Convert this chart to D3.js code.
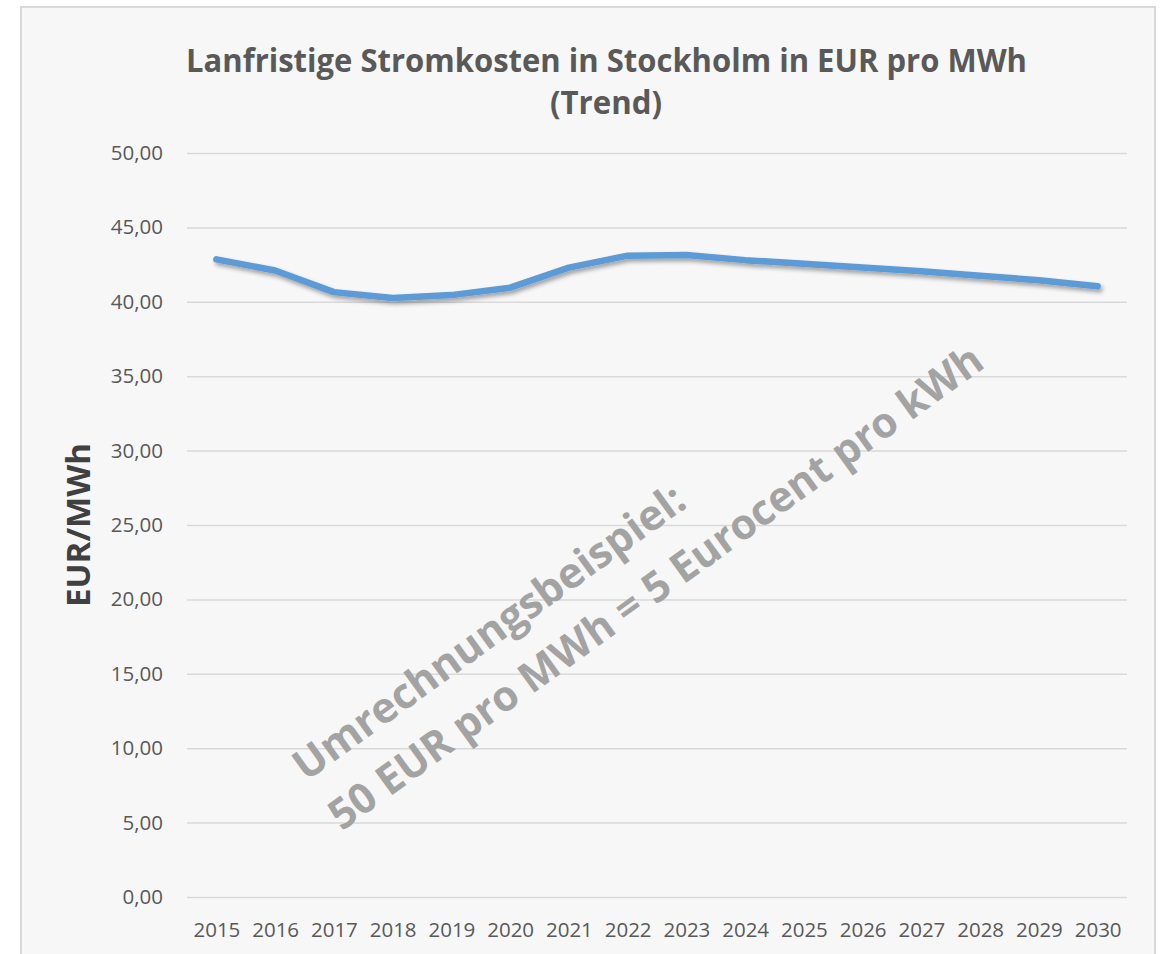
<!DOCTYPE html>
<html>
<head>
<meta charset="utf-8">
<script src="https://d3js.org/d3.v7.min.js"></script>
<style>
	body {
		margin: 0;
		background: #fff;
	}
	text {
		font-family: "Open Sans", sans-serif;
	}
	.tick-label {
		fill: #595959;
		font-size: 20.5px;
	}
	.grid line {
		stroke: #D9D9D9;
		stroke-width: 1.5;
	}
</style>
</head>
<body>
<script>

	// chart data
	var years = ["2015", "2016", "2017", "2018", "2019", "2020", "2021", "2022",
	             "2023", "2024", "2025", "2026", "2027", "2028", "2029", "2030"];
	var prices = [42.85, 42.10, 40.65, 40.25, 40.45, 40.95, 42.30, 43.10,
	              43.15, 42.80, 42.55, 42.30, 42.05, 41.75, 41.45, 41.05];
	var yTicks = [0, 5, 10, 15, 20, 25, 30, 35, 40, 45, 50];

	var titleLines = ["Lanfristige Stromkosten in Stockholm in EUR pro MWh", "(Trend)"];
	var yTitle = "EUR/MWh";
	var noteLines = ["Umrechnungsbeispiel:", "50 EUR pro MWh = 5 Eurocent pro kWh"];

	var W = 1160, H = 954;
	var plot = {left: 187, right: 1127, top: 153, bottom: 897};

	var de = d3.formatLocale({decimal: ",", thousands: ".", grouping: [3], currency: ["", " €"]});
	var fmt = de.format(".2f");

	var svg = d3.select("body").append("svg")
		.attr("width", W)
		.attr("height", H);

	var defs = svg.append("defs");
	var f = defs.append("filter").attr("id", "shadow")
		.attr("x", "-5%").attr("y", "-50%").attr("width", "110%").attr("height", "200%");
	f.append("feDropShadow")
		.attr("dx", 2).attr("dy", 3).attr("stdDeviation", 2.2)
		.attr("flood-color", "#000").attr("flood-opacity", 0.35);

	// chart area frame
	svg.append("rect")
		.attr("x", 21).attr("y", 7)
		.attr("width", 1134).attr("height", 980)
		.attr("fill", "#F7F7F7")
		.attr("stroke", "#D9D9D9")
		.attr("stroke-width", 2);

	var x = d3.scalePoint().domain(years).range([plot.left, plot.right]).padding(0.5);
	var y = d3.scaleLinear().domain([0, 50]).range([plot.bottom, plot.top]);

	// gridlines + y tick labels
	var yAxis = svg.append("g")
		.attr("class", "grid")
		.attr("transform", "translate(" + plot.left + ",0)")
		.call(d3.axisLeft(y).tickValues(yTicks).tickSize(-(plot.right - plot.left)).tickFormat(fmt).tickPadding(24));
	yAxis.select(".domain").remove();
	yAxis.selectAll("text").attr("class", "tick-label").attr("fill", null);

	// x labels
	var xAxis = svg.append("g")
		.attr("transform", "translate(0," + plot.bottom + ")")
		.call(d3.axisBottom(x).tickSize(0).tickPadding(0));
	xAxis.select(".domain").remove();
	xAxis.selectAll("text")
		.attr("class", "tick-label")
		.attr("fill", null)
		.attr("dy", null)
		.attr("y", 40);

	// watermark note
	var note = svg.append("g")
		.attr("transform", "translate(306,782) rotate(-35.8)");
	note.selectAll("text").data(noteLines).enter().append("text")
		.attr("x", 0)
		.attr("y", function(d, i) { return i * 61; })
		.attr("textLength", function(d, i) { return i == 0 ? 472 : 795; })
		.attr("lengthAdjust", "spacingAndGlyphs")
		.style("font-size", "42px")
		.style("font-weight", "bold")
		.style("fill", "#A3A3A3")
		.text(function(d) { return d; });

	// line
	var line = d3.line()
		.x(function(d, i) { return x(years[i]); })
		.y(function(d) { return y(d); });

	svg.append("path")
		.datum(prices)
		.attr("d", line)
		.attr("fill", "none")
		.attr("stroke", "#5B9BD5")
		.attr("stroke-width", 6.5)
		.attr("stroke-linecap", "round")
		.attr("stroke-linejoin", "round")
		.attr("filter", "url(#shadow)");

	// title
	svg.append("text")
		.attr("x", 186).attr("y", 72)
		.attr("textLength", 841)
		.attr("lengthAdjust", "spacingAndGlyphs")
		.style("font-size", "32px")
		.style("font-weight", "bold")
		.style("fill", "#595959")
		.text(titleLines[0]);
	svg.append("text")
		.attr("x", 606).attr("y", 114)
		.attr("text-anchor", "middle")
		.attr("textLength", 112)
		.attr("lengthAdjust", "spacingAndGlyphs")
		.style("font-size", "32px")
		.style("font-weight", "bold")
		.style("fill", "#595959")
		.text(titleLines[1]);

	// y axis title
	svg.append("text")
		.attr("transform", "translate(90,525) rotate(-90)")
		.attr("text-anchor", "middle")
		.attr("textLength", 164)
		.attr("lengthAdjust", "spacingAndGlyphs")
		.style("font-size", "32px")
		.style("font-weight", "bold")
		.style("fill", "#404040")
		.text(yTitle);

</script>
</body>
</html>
